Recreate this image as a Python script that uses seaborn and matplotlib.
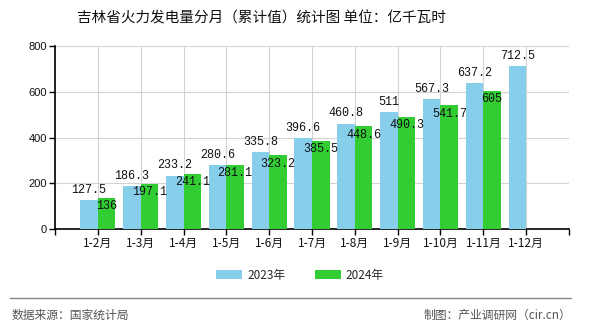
import matplotlib
matplotlib.use("Agg")
import matplotlib.pyplot as plt
from matplotlib.lines import Line2D
import seaborn as sns
import pandas as pd

categories = ["1-2月", "1-3月", "1-4月", "1-5月", "1-6月", "1-7月",
              "1-8月", "1-9月", "1-10月", "1-11月", "1-12月"]
values_2023 = [127.5, 186.3, 233.2, 280.6, 335.8, 396.6, 460.8, 511, 567.3, 637.2, 712.5]
values_2024 = [136, 197.1, 241.1, 281.1, 323.2, 385.5, 448.6, 490.3, 541.7, 605]
series_names = ["2023年", "2024年"]
y_ticks = [0, 200, 400, 600, 800]

rows = []
for c, v in zip(categories, values_2023):
    rows.append({"月份": c, "年份": series_names[0], "值": v})
for c, v in zip(categories, values_2024):
    rows.append({"月份": c, "年份": series_names[1], "值": v})
df = pd.DataFrame(rows)

sns.set_theme(style="white")
plt.rcParams["font.family"] = ["Noto Sans CJK SC", "DejaVu Sans"]

fig = plt.figure(figsize=(5.9, 3.3), dpi=100)
ax = fig.add_axes([55 / 590, 1 - 229 / 330, 514 / 590, 183 / 330])

sns.barplot(data=df, x="月份", y="值", hue="年份", order=categories,
            hue_order=series_names, palette=["#87CEEB", "#32CD32"],
            saturation=1, linewidth=0, edgecolor="none",
            width=0.82, ax=ax, legend=True, zorder=3)

mono = ["Liberation Mono", "DejaVu Sans Mono"]
c23, c24 = ax.containers[0], ax.containers[1]
for t in ax.bar_label(c23, labels=[f"{v:g}" for v in values_2023], padding=3):
    t.set_fontfamily(mono); t.set_fontsize(8.5); t.set_color("#111")
for t in ax.bar_label(c24, labels=[f"{v:g}" for v in values_2024], padding=-10.5):
    t.set_fontfamily(mono); t.set_fontsize(8.5); t.set_color("#111")

ax.set_xlim(-1, len(categories))
ax.set_ylim(0, 800)
ax.set_xticks(range(-1, len(categories) + 1))
ax.set_xticklabels([""] + categories + [""], fontsize=8.5, color="#111")
ax.set_yticks(y_ticks)
ax.set_yticklabels([str(v) for v in y_ticks], fontsize=8, family=["Liberation Sans"], color="#111")
ax.set_xlabel("")
ax.set_ylabel("")
ax.grid(True, color="#d3d3d3", linewidth=0.8, zorder=0)
ax.set_axisbelow(True)
for s in ["top", "right"]:
    ax.spines[s].set_visible(False)
for s in ["left", "bottom"]:
    ax.spines[s].set_color("black")
    ax.spines[s].set_linewidth(1.2)
ax.tick_params(axis="both", which="both", direction="out", length=4, width=1,
               color="black", bottom=True, left=True, pad=2)

leg = ax.get_legend()
handles = leg.legend_handles
leg.remove()
fig.legend(handles, series_names, loc="center", bbox_to_anchor=(300 / 590, 1 - 275 / 330),
           ncol=2, frameon=False, fontsize=8.5, handlelength=2.2, handleheight=0.9,
           columnspacing=2.5, handletextpad=0.4)

fig.text(261 / 590, 1 - 18 / 330, "吉林省火力发电量分月（累计值）统计图 单位：亿千瓦时",
         ha="center", va="center", fontsize=10.5, color="#111")
fig.add_artist(Line2D([10 / 590, 571 / 590], [1 - 298 / 330, 1 - 298 / 330],
                      color="#888888", linewidth=1))
fig.text(12 / 590, 1 - 315 / 330, "数据来源：国家统计局", ha="left", va="center",
         fontsize=8.5, color="#555555")
fig.text(571 / 590, 1 - 315 / 330, "制图：产业调研网（cir.cn）", ha="right", va="center",
         fontsize=8.5, color="#555555")

fig.savefig("out.png", dpi=100)
